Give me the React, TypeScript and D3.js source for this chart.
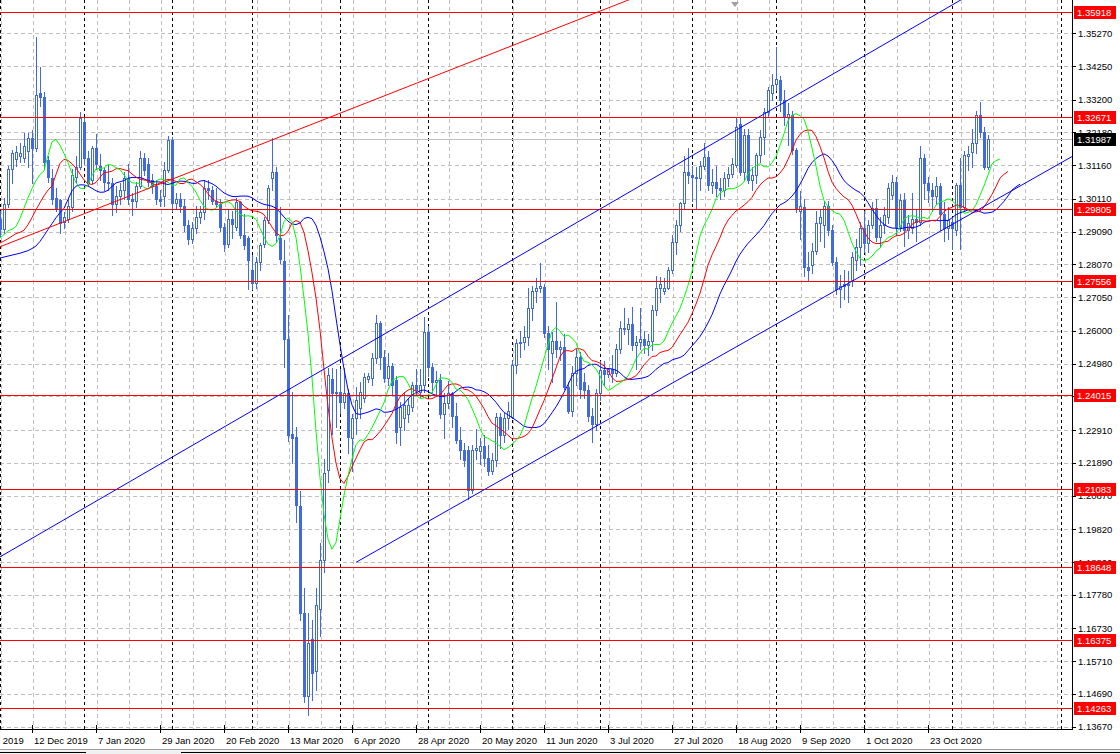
import React from "react";
import * as d3 from "d3";

// ---- Daily candles (GBPUSD-like), bar index 0 = 2 Dec 2019 ----
const opens = [
1.2950,1.2918,1.2995,1.3105,1.3135,1.3145,1.3140,1.3160,1.3200,1.3170,
1.3341,1.3328,1.3132,1.3076,1.3014,1.3008,1.2940,1.2950,1.2986,1.3080,
1.3111,1.3250,1.3138,1.3070,1.3170,1.3115,1.3100,1.3065,1.3060,1.2995,
1.3020,1.3040,1.3075,1.3010,1.3005,1.3050,1.3137,1.3120,1.3070,1.3050,
1.3010,1.3020,1.3100,1.3195,1.2997,1.3010,1.2990,1.2930,1.2885,1.2920,
1.2955,1.2970,1.3045,1.3040,1.3005,1.2995,1.2925,1.2870,1.2950,1.2925,
1.3000,1.2900,1.2890,1.2790,1.2750,1.2815,1.2870,1.2945,1.3075,1.3095,
1.2890,1.2818,1.2576,1.2280,1.2270,1.2054,1.1720,1.1463,1.1640,1.1539,
1.1734,1.1887,1.2166,1.2450,1.2405,1.2410,1.2380,1.2406,1.2265,1.2330,
1.2360,1.2390,1.2450,1.2453,1.2515,1.2624,1.2518,1.2453,1.2490,1.2447,
1.2301,1.2330,1.2340,1.2364,1.2431,1.2410,1.2430,1.2597,1.2488,1.2441,
1.2447,1.2340,1.2375,1.2405,1.2335,1.2260,1.2229,1.2229,1.2104,1.2229,
1.2225,1.2240,1.2205,1.2165,1.2198,1.2333,1.2275,1.2330,1.2333,1.2494,
1.2563,1.2565,1.2580,1.2670,1.2725,1.2735,1.2738,1.2594,1.2530,1.2570,
1.2545,1.2550,1.2426,1.2350,1.2469,1.2520,1.2440,1.2415,1.2335,1.2310,
1.2405,1.2478,1.2465,1.2480,1.2470,1.2545,1.2610,1.2605,1.2620,1.2555,
1.2565,1.2575,1.2555,1.2570,1.2665,1.2733,1.2725,1.2735,1.2790,1.2878,
1.2930,1.2997,1.3096,1.3085,1.3080,1.3075,1.3115,1.3143,1.3055,1.3065,
1.3045,1.3040,1.3075,1.3090,1.3117,1.3245,1.3096,1.3210,1.3070,1.3085,
1.3148,1.3205,1.3283,1.3340,1.3370,1.3382,1.3320,1.3265,1.3272,1.3163,
1.2975,1.2987,1.2800,1.2805,1.2850,1.2935,1.2930,1.2990,1.2914,1.2816,
1.2730,1.2740,1.2745,1.2758,1.2820,1.2862,1.2920,1.2875,1.2930,1.2982,
1.2894,1.2930,1.2956,1.3023,1.3065,1.2923,1.3008,1.2915,1.2920,1.2950,
1.2940,1.3140,1.3060,1.3040,1.3020,1.3050,1.2965,1.2920,1.2940,1.2914,
1.3054,1.2985,1.3146,1.3158,1.3185,1.3272,1.3220,1.3111];
const highs = [
1.2975,1.3014,1.3115,1.3165,1.3175,1.3185,1.3215,1.3215,1.3226,1.3516,
1.3422,1.3345,1.3145,1.3105,1.3045,1.3012,1.2970,1.3010,1.3105,1.3145,
1.3283,1.3266,1.3160,1.3175,1.3213,1.3150,1.3110,1.3120,1.3075,1.3050,
1.3060,1.3095,1.3120,1.3030,1.3065,1.3160,1.3155,1.3140,1.3090,1.3070,
1.3040,1.3125,1.3208,1.3205,1.3030,1.3030,1.3010,1.2945,1.2940,1.2990,
1.2990,1.3070,1.3070,1.3050,1.3045,1.3010,1.2935,1.2980,1.2975,1.3015,
1.3005,1.2965,1.2895,1.2835,1.2830,1.2875,1.2955,1.3055,1.3200,1.3110,
1.2985,1.2883,1.2650,1.2410,1.2300,1.2100,1.1800,1.1720,1.1700,1.1800,
1.1940,1.2200,1.2485,1.2485,1.2480,1.2480,1.2485,1.2420,1.2340,1.2425,
1.2440,1.2470,1.2470,1.2530,1.2649,1.2630,1.2540,1.2530,1.2500,1.2460,
1.2380,1.2410,1.2390,1.2440,1.2480,1.2480,1.2644,1.2615,1.2500,1.2475,
1.2465,1.2405,1.2445,1.2410,1.2375,1.2300,1.2250,1.2240,1.2245,1.2295,
1.2265,1.2275,1.2245,1.2220,1.2345,1.2345,1.2345,1.2380,1.2510,1.2575,
1.2600,1.2615,1.2735,1.2740,1.2765,1.2811,1.2745,1.2615,1.2595,1.2690,
1.2570,1.2590,1.2440,1.2490,1.2545,1.2535,1.2470,1.2430,1.2360,1.2420,
1.2505,1.2505,1.2485,1.2525,1.2560,1.2630,1.2670,1.2640,1.2675,1.2585,
1.2670,1.2600,1.2590,1.2680,1.2770,1.2768,1.2765,1.2800,1.2900,1.2945,
1.3000,1.3145,1.3170,1.3115,1.3110,1.3130,1.3185,1.3160,1.3105,1.3115,
1.3075,1.3095,1.3110,1.3140,1.3265,1.3265,1.3230,1.3230,1.3110,1.3155,
1.3225,1.3295,1.3360,1.3400,1.3485,1.3395,1.3350,1.3310,1.3285,1.3170,
1.3035,1.3010,1.2845,1.2875,1.2975,1.2980,1.3005,1.3005,1.2930,1.2830,
1.2775,1.2790,1.2785,1.2845,1.2885,1.2940,1.2975,1.2945,1.3000,1.3010,
1.2955,1.2985,1.3060,1.3085,1.3080,1.3025,1.3030,1.2960,1.3030,1.2980,
1.3177,1.3150,1.3080,1.3060,1.3080,1.3060,1.3000,1.2985,1.2955,1.3060,
1.3140,1.3160,1.3175,1.3230,1.3285,1.3314,1.3235,1.3210];
const lows = [
1.2895,1.2905,1.2985,1.3060,1.3115,1.3125,1.3125,1.3110,1.3060,1.3160,
1.3300,1.3105,1.3065,1.2995,1.2975,1.2905,1.2920,1.2940,1.2975,1.3065,
1.3105,1.3120,1.3050,1.3060,1.3105,1.3070,1.3040,1.3040,1.2960,1.2970,
1.2995,1.3010,1.2995,1.2960,1.2985,1.3045,1.3085,1.3050,1.3030,1.2995,
1.2990,1.2990,1.3095,1.2975,1.2980,1.2970,1.2910,1.2870,1.2875,1.2905,
1.2935,1.2950,1.3010,1.2995,1.2985,1.2910,1.2850,1.2860,1.2890,1.2915,
1.2890,1.2855,1.2729,1.2731,1.2735,1.2790,1.2860,1.2935,1.3040,1.2880,
1.2810,1.2487,1.2258,1.2190,1.2005,1.1700,1.1445,1.1404,1.1450,1.1480,
1.1650,1.1850,1.2130,1.2280,1.2300,1.2345,1.2360,1.2220,1.2165,1.2280,
1.2330,1.2380,1.2440,1.2430,1.2500,1.2480,1.2440,1.2430,1.2400,1.2250,
1.2245,1.2290,1.2315,1.2350,1.2400,1.2395,1.2410,1.2460,1.2410,1.2400,
1.2330,1.2265,1.2360,1.2300,1.2250,1.2200,1.2180,1.2077,1.2095,1.2200,
1.2185,1.2180,1.2150,1.2155,1.2180,1.2235,1.2255,1.2295,1.2330,1.2470,
1.2520,1.2545,1.2555,1.2635,1.2690,1.2720,1.2580,1.2480,1.2440,1.2520,
1.2510,1.2420,1.2345,1.2335,1.2430,1.2390,1.2390,1.2320,1.2255,1.2290,
1.2385,1.2430,1.2455,1.2440,1.2460,1.2530,1.2590,1.2560,1.2540,1.2480,
1.2545,1.2530,1.2525,1.2540,1.2650,1.2690,1.2715,1.2730,1.2780,1.2840,
1.2910,1.2980,1.3060,1.3005,1.2981,1.3040,1.3105,1.3040,1.3030,1.3020,
1.3010,1.3020,1.3050,1.3080,1.3110,1.3085,1.3070,1.3060,1.3040,1.3060,
1.3125,1.3150,1.3270,1.3320,1.3350,1.3285,1.3240,1.3180,1.3150,1.2970,
1.2885,1.2770,1.2760,1.2780,1.2840,1.2880,1.2860,1.2900,1.2805,1.2715,
1.2675,1.2700,1.2690,1.2740,1.2790,1.2805,1.2845,1.2845,1.2920,1.2880,
1.2860,1.2905,1.2935,1.3010,1.2900,1.2910,1.2865,1.2890,1.2905,1.2880,
1.2930,1.3010,1.3000,1.2975,1.2995,1.2915,1.2880,1.2885,1.2855,1.2900,
1.2855,1.2975,1.3100,1.3110,1.3155,1.3205,1.3105,1.3105];
const closes = [
1.2918,1.2995,1.3105,1.3155,1.3158,1.3155,1.3175,1.3200,1.3170,1.3335,
1.3328,1.3126,1.3080,1.3010,1.2980,1.2936,1.2955,1.2990,1.3085,1.3111,
1.3263,1.3138,1.3060,1.3170,1.3121,1.3100,1.3065,1.3060,1.2995,1.3020,
1.3040,1.3075,1.3010,1.3005,1.3050,1.3137,1.3100,1.3065,1.3050,1.3010,
1.3005,1.3100,1.3195,1.2997,1.3010,1.2990,1.2930,1.2885,1.2920,1.2955,
1.2970,1.3045,1.3040,1.3005,1.2995,1.2925,1.2870,1.2950,1.2932,1.3000,
1.2900,1.2868,1.2820,1.2750,1.2815,1.2868,1.2945,1.3045,1.3095,1.2900,
1.2824,1.2576,1.2276,1.2265,1.2058,1.1720,1.1463,1.1628,1.1533,1.1745,
1.1887,1.2158,1.2462,1.2405,1.2410,1.2380,1.2406,1.2270,1.2330,1.2385,
1.2410,1.2457,1.2460,1.2515,1.2624,1.2518,1.2453,1.2490,1.2430,1.2286,
1.2364,1.2370,1.2370,1.2431,1.2415,1.2430,1.2597,1.2488,1.2441,1.2447,
1.2340,1.2375,1.2405,1.2335,1.2260,1.2229,1.2198,1.2104,1.2229,1.2235,
1.2240,1.2205,1.2165,1.2198,1.2333,1.2275,1.2330,1.2350,1.2494,1.2563,
1.2565,1.2580,1.2670,1.2725,1.2735,1.2740,1.2594,1.2545,1.2570,1.2545,
1.2550,1.2426,1.2350,1.2469,1.2520,1.2420,1.2415,1.2335,1.2310,1.2405,
1.2478,1.2465,1.2480,1.2470,1.2545,1.2610,1.2605,1.2620,1.2555,1.2565,
1.2575,1.2555,1.2570,1.2665,1.2733,1.2745,1.2735,1.2790,1.2878,1.2930,
1.2997,1.3096,1.3085,1.3080,1.3075,1.3115,1.3143,1.3055,1.3065,1.3045,
1.3040,1.3075,1.3090,1.3120,1.3236,1.3096,1.3211,1.3070,1.3085,1.3148,
1.3205,1.3283,1.3350,1.3366,1.3385,1.3320,1.3265,1.3275,1.3163,1.2980,
1.2990,1.2800,1.2790,1.2850,1.2935,1.2955,1.2990,1.2914,1.2816,1.2730,
1.2740,1.2745,1.2745,1.2831,1.2860,1.2920,1.2875,1.2930,1.2982,1.2894,
1.2930,1.2960,1.3044,1.3065,1.2923,1.3008,1.2915,1.2935,1.2950,1.2940,
1.3140,1.3060,1.3040,1.3020,1.3050,1.2965,1.2920,1.2945,1.2920,1.3054,
1.2985,1.3148,1.3152,1.3185,1.3272,1.3220,1.3111,1.3199];

// Alligator values read at the left edge (before the first visible bar)
const jawLead = [1.2827, 1.2830, 1.2833, 1.2836, 1.2839, 1.2842, 1.2846, 1.2850];
const teethLead = [1.2874, 1.2880, 1.2887, 1.2895, 1.2903];
const lipsLead = [1.2889, 1.2900, 1.2912];

// Horizontal support / resistance levels
const levels = [1.35918, 1.32671, 1.29805, 1.27556, 1.24015, 1.21083, 1.18648, 1.16375, 1.14263];
const bid = 1.31987;

// Price scale labels
const priceTicks = [1.3527, 1.3425, 1.332, 1.3218, 1.3116, 1.3011, 1.2909, 1.2807, 1.2705, 1.26,
  1.2498, 1.2396, 1.2291, 1.2189, 1.2087, 1.1982, 1.188, 1.1778, 1.1673, 1.1571, 1.1469, 1.1367];

// Time scale labels (bar index, text)
const timeTickIdx = [-8, 8, 24, 40, 56, 72, 88, 104, 120, 136, 152, 168, 184, 200, 216, 232];
const timeTickText = ["20 Nov 2019", "12 Dec 2019", "7 Jan 2020", "29 Jan 2020", "20 Feb 2020", "13 Mar 2020",
  "6 Apr 2020", "28 Apr 2020", "20 May 2020", "11 Jun 2020", "3 Jul 2020", "27 Jul 2020", "18 Aug 2020",
  "9 Sep 2020", "1 Oct 2020", "23 Oct 2020"];

// First bar of each month (period separators)
const monthStarts = [0, 21, 43, 63, 85, 107, 128, 150, 173, 194, 216, 238];

// Trend lines: [barIndex, price] anchors
const redTrend = [[0, 1.2862], [75, 1.3229]];
const channelUpper = [[0, 1.1896], [175, 1.316]];
const channelLower = [[89, 1.1879], [268, 1.3143]];

const W = 1120, H = 754;
const PR = 1072; // plot right edge
const PB = 729;  // plot bottom edge
const CANDLE = "#4169e1";
const FONT = "'Liberation Sans', Arial, sans-serif";

function smma(vals: number[], period: number, lead: number[]) {
  const out: number[] = [];
  let prev = lead[lead.length - 1];
  for (const v of vals) {
    prev = (prev * (period - 1) + v) / period;
    out.push(prev);
  }
  return out;
}

export default function App() {
  const x = d3.scaleLinear().domain([0, 1]).range([0, 4]);
  const y = d3.scaleLinear().domain([1.1367, 1.3527]).range([726.7, 33.3]);
  const n = closes.length;
  const median = closes.map((_, i) => (highs[i] + lows[i]) / 2);

  const buildLine = (period: number, shift: number, lead: number[]) => {
    const vals = smma(median, period, lead);
    const pts: [number, number][] = [];
    lead.forEach((v, k) => pts.push([k - lead.length + shift, v]));
    vals.forEach((v, k) => pts.push([k + shift, v]));
    return pts;
  };
  const jaw = buildLine(13, 8, jawLead);
  const teeth = buildLine(8, 5, teethLead);
  const lips = buildLine(5, 3, lipsLead);
  const lineGen = d3.line<[number, number]>().x((d) => x(d[0])).y((d) => y(d[1]));

  const trend = (a: number[][], from: number, to: number) => {
    const [i1, p1] = a[0];
    const [i2, p2] = a[1];
    const at = (i: number) => p1 + ((p2 - p1) * (i - i1)) / (i2 - i1);
    return { x1: x(from), y1: y(at(from)), x2: x(to), y2: y(at(to)) };
  };
  const tRed = trend(redTrend, -20, 400);
  const tUp = trend(channelUpper, -20, 400);
  const tLo = trend(channelLower, channelLower[0][0], 400);

  const vGrid = d3.range(0, PR, 32);
  const yr = (v: number) => Math.round(y(v));

  return (
    <div>
      <style>{`body{margin:0;background:#fff}`}</style>
      <svg width={W} height={H} style={{ display: "block", background: "#fff" }} fontFamily={FONT}>
        <defs>
          <clipPath id="plot">
            <rect x={0} y={0} width={PR} height={PB} />
          </clipPath>
        </defs>
        <g clipPath="url(#plot)">
          {/* grid */}
          {priceTicks.map((v) => (
            <line key={"h" + v} x1={0} x2={PR} y1={yr(v) + 0.5} y2={yr(v) + 0.5} stroke="#c0c0c0" strokeDasharray="4,3" />
          ))}
          {vGrid.map((g) => (
            <line key={"v" + g} x1={g + 1.5} x2={g + 1.5} y1={0} y2={PB} stroke="#c0c0c0" strokeDasharray="4,3" />
          ))}
          {monthStarts.map((m) => (
            <line key={"m" + m} x1={x(m) + 0.5} x2={x(m) + 0.5} y1={0} y2={PB} stroke="#000" strokeDasharray="3,3" />
          ))}
          <line x1={1061.5} x2={1061.5} y1={0} y2={PB} stroke="#000" strokeDasharray="3,3" />
          {/* bid line */}
          <line x1={0} x2={PR} y1={yr(bid) + 0.5} y2={yr(bid) + 0.5} stroke="#c0c0c0" />
          {/* candles */}
          {closes.map((c, i) => {
            const o = opens[i];
            const cx = Math.round(x(i));
            const top = yr(Math.max(o, c));
            const bot = yr(Math.min(o, c));
            const hy = yr(highs[i]);
            const ly = yr(lows[i]);
            const bull = c >= o;
            return (
              <g key={"c" + i}>
                <line x1={cx + 0.5} x2={cx + 0.5} y1={hy} y2={ly + 1} stroke={CANDLE} />
                {bull ? (
                  <rect x={cx - 0.5} y={top + 0.5} width={2} height={Math.max(1, bot - top)} fill="#fff" stroke={CANDLE} />
                ) : (
                  <rect x={cx - 1} y={top} width={3} height={Math.max(1, bot - top + 1)} fill={CANDLE} />
                )}
              </g>
            );
          })}
          {/* alligator */}
          <path d={lineGen(jaw) || ""} fill="none" stroke="#0000ff" strokeWidth={1} />
          <path d={lineGen(teeth) || ""} fill="none" stroke="#ff0000" strokeWidth={1} />
          <path d={lineGen(lips) || ""} fill="none" stroke="#00ff00" strokeWidth={1} />
          {/* horizontal levels */}
          {levels.map((v) => (
            <line key={"l" + v} x1={0} x2={PR} y1={yr(v) + 0.5} y2={yr(v) + 0.5} stroke="#ff0000" />
          ))}
          {/* trend lines */}
          <line {...tRed} stroke="#ff0000" />
          <line {...tUp} stroke="#0000ff" />
          <line {...tLo} stroke="#0000ff" />
          {/* chart shift marker */}
          <path d="M731,2 L739,2 L735,7 Z" fill="#a0a0a0" />
        </g>
        {/* axes */}
        <line x1={PR + 0.5} x2={PR + 0.5} y1={0} y2={PB} stroke="#000" />
        <line x1={0} x2={PR + 1} y1={PB + 0.5} y2={PB + 0.5} stroke="#000" />
        {priceTicks.map((v) => (
          <g key={"pt" + v}>
            <line x1={PR} x2={PR + 4} y1={yr(v) + 0.5} y2={yr(v) + 0.5} stroke="#000" />
            <text x={PR + 6} y={y(v) + 3.5} fontSize={9.5} fill="#000">{v.toFixed(5)}</text>
          </g>
        ))}
        {levels.map((v) => (
          <g key={"lb" + v}>
            <rect x={PR + 2} y={yr(v) - 6} width={42} height={13} fill="#ff0000" />
            <text x={PR + 5} y={yr(v) + 4} fontSize={9.5} fill="#fff">{v.toFixed(5)}</text>
          </g>
        ))}
        <rect x={PR + 2} y={yr(bid) - 6} width={42} height={13} fill="#000" />
        <text x={PR + 5} y={yr(bid) + 4} fontSize={9.5} fill="#fff">{bid.toFixed(5)}</text>
        {timeTickIdx.map((t, k) => (
          <g key={"tt" + t}>
            <line x1={x(t) + 0.5} x2={x(t) + 0.5} y1={PB - 4} y2={PB + 4} stroke="#000" />
            <text x={x(t) + 2} y={744} fontSize={9.5} fill="#000">{timeTickText[k]}</text>
          </g>
        ))}
        {/* bottom tab strip */}
        <rect x={0} y={749} width={W} height={5} fill="#f0f0f0" />
        <line x1={0} x2={W} y1={749.5} y2={749.5} stroke="#a0a0a0" />
        <line x1={0} x2={86} y1={752.5} y2={752.5} stroke="#000" />
        <line x1={181} x2={W} y1={752.5} y2={752.5} stroke="#000" />
      </svg>
    </div>
  );
}
